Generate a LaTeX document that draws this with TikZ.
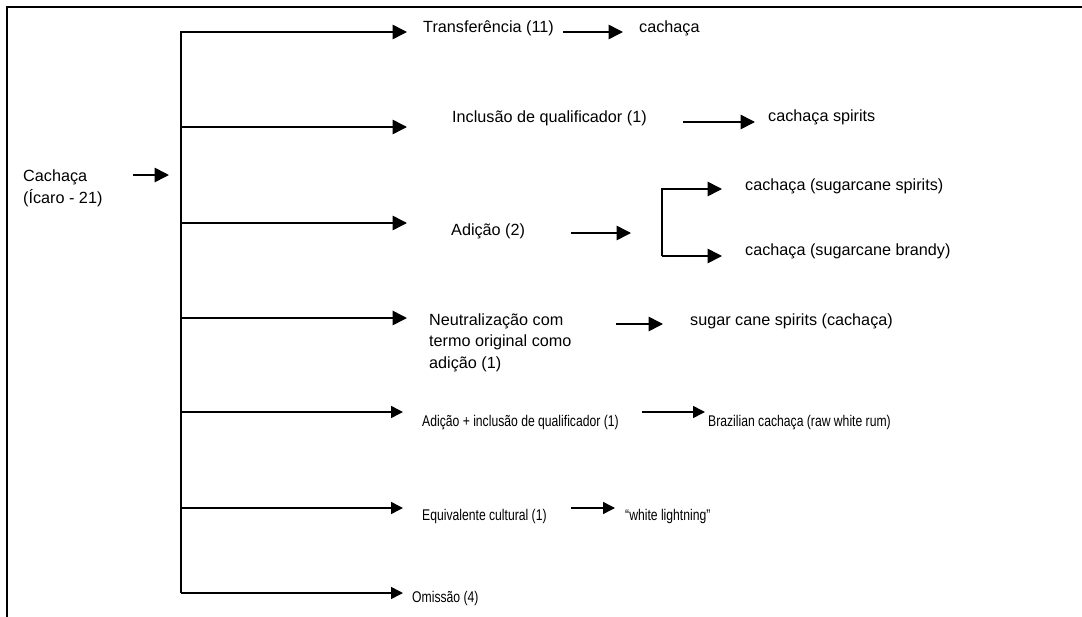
\documentclass[tikz,border=0pt]{standalone}
\usepackage{fontspec}
\usepackage{graphicx}
\setmainfont{Liberation Sans}
\usetikzlibrary{arrows.meta}
% condensed labels: the regular face squeezed horizontally
\newcommand{\condensed}[1]{\scalebox{0.785}[1]{#1}}

\begin{document}
\begin{tikzpicture}[x=1pt,y=-1pt,
  lbl/.style={anchor=base west, inner sep=0pt, align=left,
    font=\fontsize{16.2}{21.5}\selectfont},
  nlbl/.style={anchor=base west, inner sep=0pt,
    font=\fontsize{15.5}{18}\selectfont},
  link/.style={line width=1.6pt, line join=miter,
    -{Triangle[length=14.5pt,width=14.5pt]}},
  slink/.style={line width=1.5pt, -{Triangle[length=12pt,width=12pt]}},
  frame/.style={line width=2pt}]

\useasboundingbox (0,0) rectangle (1082,616);
\clip (0,0) rectangle (1082,616);
\draw[frame] (6.5,6.5) rectangle (1110,640);

% source term (multi-line nodes sit on the baseline of their last line)
\node[lbl] (src) at (23,203) {Cachaça\\(Ícaro - 21)};
\coordinate (srcA) at (133,175);
\coordinate (srcB) at (169,175);
\draw[link] (srcA) -- (srcB);

% trunk branch points and arrow tips
\coordinate (b1) at (181,32);   \coordinate (t1) at (407,32);
\coordinate (b2) at (181,127);  \coordinate (t2) at (407,127);
\coordinate (b3) at (181,223);  \coordinate (t3) at (407,223);
\coordinate (b4) at (181,318);  \coordinate (t4) at (407,318);
\coordinate (b5) at (181,412);  \coordinate (t5) at (403,412);
\coordinate (b6) at (181,508);  \coordinate (t6) at (403,508);
\coordinate (b7) at (181,593);  \coordinate (t7) at (403,593);

\draw[link] (b7) -- (b1) -- (t1);
\draw[link] (b2) -- (t2);
\draw[link] (b3) -- (t3);
\draw[link] (b4) -- (t4);
\draw[slink] (b5) -- (t5);
\draw[slink] (b6) -- (t6);
\draw[slink] (b7) -- (t7);

% strategies
\node[lbl] (s1) at (423,32) {Transferência (11)};
\node[lbl] (s2) at (452,122) {Inclusão de qualificador (1)};
\node[lbl] (s3) at (451,235) {Adição (2)};
\node[lbl] (s4) at (429,368) {Neutralização com\\termo original como\\adição (1)};
\node[nlbl] (s5) at (422,426) {\condensed{Adição + inclusão de qualificador (1)}};
\node[nlbl] (s6) at (422,520) {\condensed{Equivalente cultural (1)}};
\node[nlbl] (s7) at (412,602) {\condensed{Omissão (4)}};

% renderings
\node[lbl] (r1) at (639,32) {cachaça};
\node[lbl] (r2) at (768,121) {cachaça spirits};
\node[lbl] (r3a) at (745,190) {cachaça (sugarcane spirits)};
\node[lbl] (r3b) at (745,255) {cachaça (sugarcane brandy)};
\node[lbl] (r4) at (690,325) {sugar cane spirits (cachaça)};
\node[nlbl] (r5) at (708,426) {\condensed{Brazilian cachaça (raw white rum)}};
\node[nlbl] (r6) at (625,520) {\condensed{“white lightning”}};

% strategy -> rendering arrows
\coordinate (a1) at (563,32);  \coordinate (e1) at (623,32);
\coordinate (a2) at (683,122); \coordinate (e2) at (755,122);
\coordinate (a3) at (571,233); \coordinate (e3) at (631,233);
\coordinate (a4) at (616,324); \coordinate (e4) at (663,324);
\coordinate (a5) at (642,412); \coordinate (e5) at (705,412);
\coordinate (a6) at (571,508); \coordinate (e6) at (615,508);
\draw[link] (a1) -- (e1);
\draw[link] (a2) -- (e2);
\draw[link] (a3) -- (e3);
\draw[link] (a4) -- (e4);
\draw[slink] (a5) -- (e5);
\draw[slink] (a6) -- (e6);

% fork for the two additions
\coordinate (k1) at (662,189); \coordinate (f1) at (722,189);
\coordinate (k2) at (662,256); \coordinate (f2) at (722,256);
\draw[link] (k2) -- (k1) -- (f1);
\draw[link] (k2) -- (f2);
\end{tikzpicture}
\end{document}
